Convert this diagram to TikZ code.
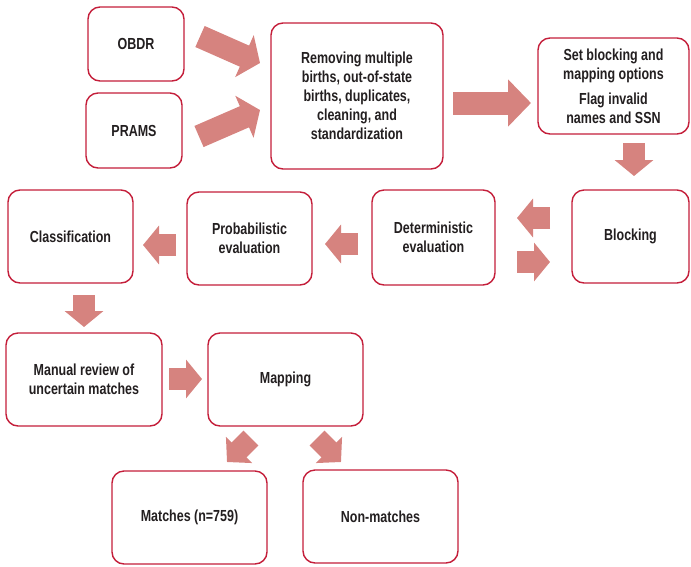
\documentclass[tikz,border=0pt]{standalone}
\usepackage{fontspec}
\setmainfont{Liberation Sans}[FakeStretch=0.78]
\usetikzlibrary{arrows.meta}
\definecolor{boxred}{HTML}{C41E3A}
\definecolor{arrowred}{HTML}{D6837F}
\definecolor{txt}{HTML}{231F20}
\begin{document}
\begin{tikzpicture}[x=1pt,y=-1pt,
  box/.style={draw=boxred, line width=1.4pt, rounded corners=12pt, fill=white,
    inner sep=0pt, font=\bfseries\fontsize{16}{19}\selectfont, text=txt, align=center},
  barrow/.style={draw=arrowred, line width=23pt, -{Triangle[length=17pt,width=45pt]}},
  sarrow/.style={draw=arrowred, line width=22pt, -{Triangle[length=16pt,width=38pt]}},
  darrow/.style={draw=arrowred, line width=21pt, -{Triangle[length=17pt,width=36pt]}},
]
\useasboundingbox (0,0) rectangle (691,566);

% boxes
\node[box, minimum width=96pt, minimum height=74pt] (obdr) at (136,44) {OBDR};
\node[box, minimum width=96pt, minimum height=75pt] (prams) at (134,130.5) {PRAMS};
\node[box, minimum width=172pt, minimum height=146pt] (remove) at (357,96)
  {Removing multiple\\births, out-of-state\\births, duplicates,\\cleaning, and\\standardization};
\node[box, minimum width=151pt, minimum height=96pt] (setblk) at (613.5,86)
  {Set blocking and\\mapping options\\[6pt]Flag invalid\\names and SSN};
\node[box, minimum width=117pt, minimum height=93pt] (blocking) at (630.5,236.5) {Blocking};
\node[box, minimum width=123pt, minimum height=95pt] (determ) at (433.5,237.5) {Deterministic\\evaluation};
\node[box, minimum width=125pt, minimum height=93pt] (prob) at (249.5,238.5) {Probabilistic\\evaluation};
\node[box, minimum width=125pt, minimum height=93pt] (classif) at (70.5,236.5) {Classification};
\node[box, minimum width=156pt, minimum height=93pt] (manual) at (84,379.5) {Manual review of\\uncertain matches};
\node[box, minimum width=155pt, minimum height=93pt] (mapping) at (285.5,379.5) {Mapping};
\node[box, minimum width=155pt, minimum height=93pt] (matches) at (189.5,517.5) {Matches (n=759)};
\node[box, minimum width=155pt, minimum height=93pt] (nonmatch) at (380.5,516.5) {Non-matches};

% arrow end points
\coordinate (a1s) at (200,36.5);  \coordinate (a1e) at (260,63);
\coordinate (a2s) at (199,136.5); \coordinate (a2e) at (260,110);
\coordinate (a3s) at (453,103);   \coordinate (a3e) at (531,103);
\coordinate (a4s) at (634,143);   \coordinate (a4e) at (634,176);
\coordinate (a5s) at (550,218);   \coordinate (a5e) at (517,218);
\coordinate (a6s) at (517,262);   \coordinate (a6e) at (550,262);
\coordinate (a7s) at (358,244);   \coordinate (a7e) at (325,244);
\coordinate (a8s) at (176,245);   \coordinate (a8e) at (143,245);
\coordinate (a9s) at (84,295);    \coordinate (a9e) at (84,327);
\coordinate (a10s) at (169,379);  \coordinate (a10e) at (202,379);
\coordinate (a11s) at (251,438);  \coordinate (a11e) at (227,462);
\coordinate (a12s) at (317,438);  \coordinate (a12e) at (341,462);

\draw[barrow] (a1s) -- (a1e);
\draw[barrow] (a2s) -- (a2e);
\draw[barrow, -{Triangle[length=23pt,width=46pt]}] (a3s) -- (a3e);
\draw[sarrow] (a4s) -- (a4e);
\draw[sarrow] (a5s) -- (a5e);
\draw[sarrow] (a6s) -- (a6e);
\draw[sarrow] (a7s) -- (a7e);
\draw[sarrow] (a8s) -- (a8e);
\draw[sarrow] (a9s) -- (a9e);
\draw[sarrow] (a10s) -- (a10e);
\draw[darrow] (a11s) -- (a11e);
\draw[darrow] (a12s) -- (a12e);
\end{tikzpicture}
\end{document}
